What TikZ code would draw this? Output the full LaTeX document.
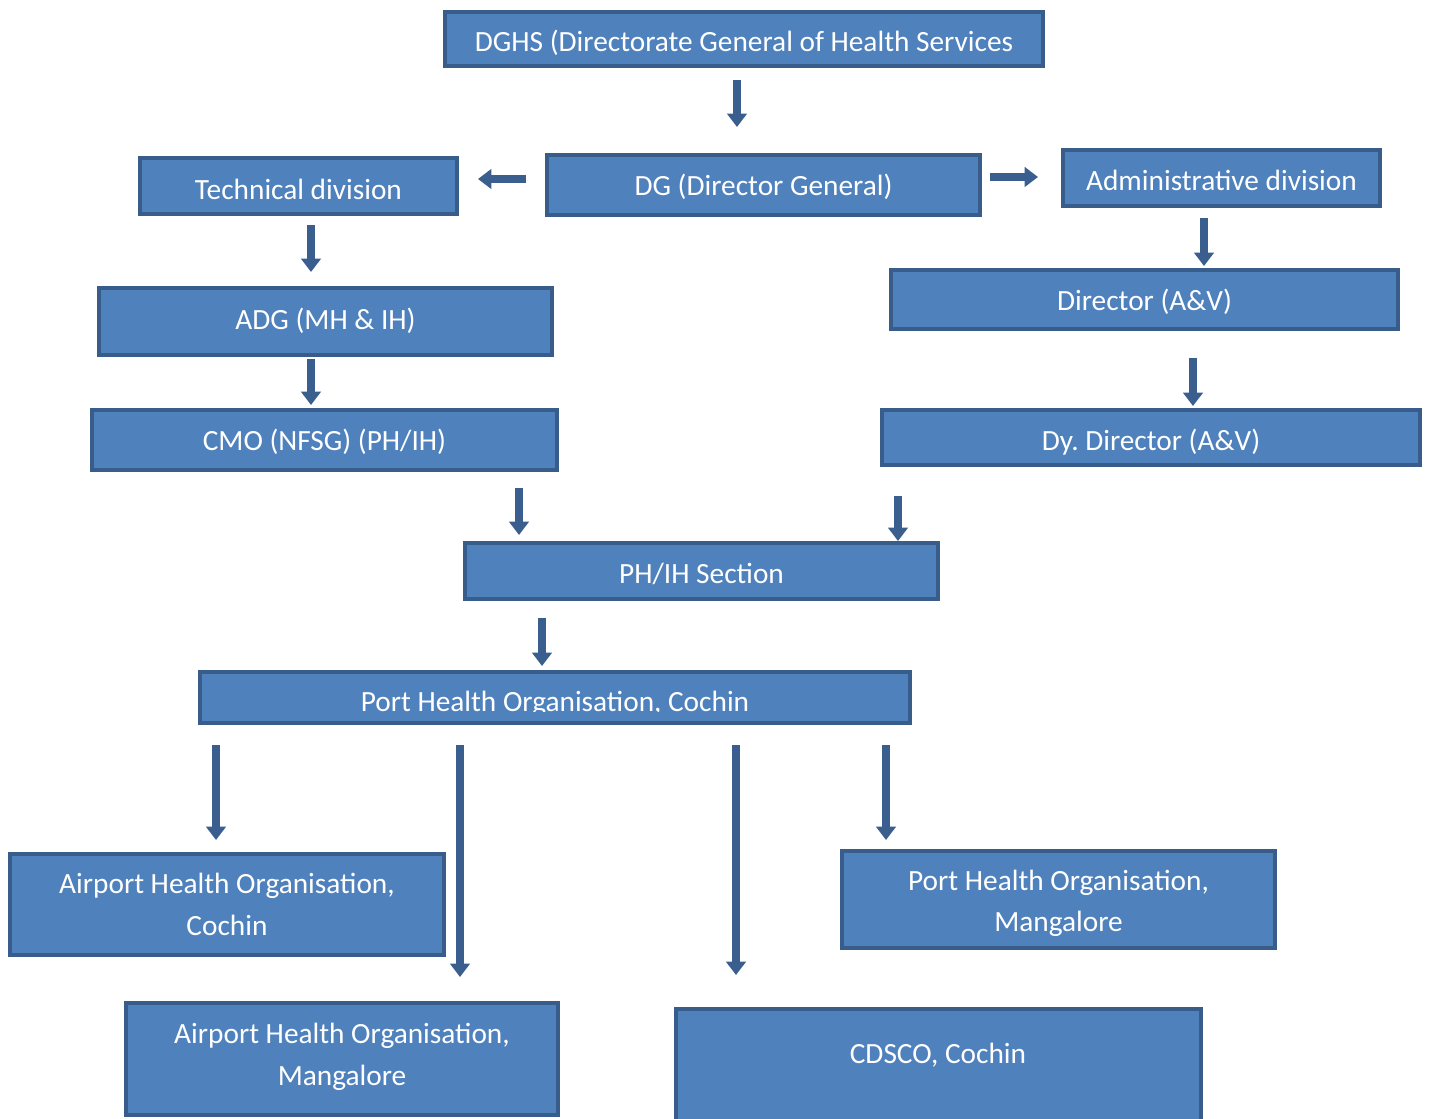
\documentclass[tikz,border=0pt]{standalone}
\usepackage{fontspec}
\setmainfont{Carlito}
\frenchspacing
\usetikzlibrary{arrows.meta}
\definecolor{boxfill}{HTML}{4F81BD}
\definecolor{boxline}{HTML}{385D8A}
\definecolor{arrcol}{HTML}{3A5F8F}
\tikzset{
  box/.style={draw=boxline, fill=boxfill, line width=3pt, inner sep=0pt},
  boxtext/.style={text=white, inner sep=0pt, font=\fontsize{22}{31}\selectfont, align=center},
  arr/.style={draw=arrcol, line width=6pt, -{Triangle[length=10pt,width=14.5pt]}}
}
% name, x1, y1, x2, y2, text, text offset (px)
\newcommand\mybox[7]{%
  \pgfmathsetmacro\bxcx{(#2+#4)/2}\pgfmathsetmacro\bxcy{(#3+#5)/2}%
  \pgfmathsetmacro\bxw{(#4-#2-4)*0.75}\pgfmathsetmacro\bxh{(#5-#3-4)*0.75}%
  \pgfmathsetmacro\bxty{\bxcy+#7}%
  \node[box, minimum width=\bxw pt, minimum height=\bxh pt] (#1) at (\bxcx,\bxcy) {};
  \node[boxtext] (#1-t) at (\bxcx,\bxty) {#6};}
\begin{document}
\begin{tikzpicture}[x=0.75pt,y=-0.75pt]
\clip (0,0) rectangle (1429,1119);
\fill[white] (0,0) rectangle (1429,1119);
\mybox{dghs}{443}{10}{1045}{68}{DGHS (Directorate General of Health Services}{4}
\mybox{dg}{545}{153}{982}{217}{DG (Director General)}{2}
\mybox{tech}{138}{156}{459}{216}{Technical division}{3}
\mybox{admin}{1061}{148}{1382}{208}{Administrative division}{2}
\mybox{adg}{97}{286}{554}{357}{ADG (MH \& IH)}{-1}
\mybox{dir}{889}{268}{1400}{331}{Director (A\&V)}{2}
\mybox{cmo}{90}{408}{559}{472}{CMO (NFSG) (PH/IH)}{2}
\mybox{dy}{880}{408}{1422}{467}{Dy.\ Director (A\&V)}{5}
\mybox{ph}{463}{541}{940}{601}{PH/IH Section}{3}
\node[box, minimum width=532.5pt, minimum height=38.25pt] (port) at (555,697.5) {};
\begin{scope}
  \clip (198,670) rectangle (912,712);
  \node[boxtext, anchor=base] (port-t) at (555,711) {Port Health Organisation, Cochin};
\end{scope}
\mybox{ahc}{8}{852}{446}{957}{Airport Health Organisation,\\Cochin}{0}
\mybox{phm}{840}{849}{1277}{950}{Port Health Organisation,\\Mangalore}{4}
\mybox{ahm}{124}{1001}{560}{1117}{Airport Health Organisation,\\Mangalore}{-2}
\node[box, minimum width=393.75pt, minimum height=94.5pt] (cdsco) at (938.5,1072) {};
\node[boxtext] (cdsco-t) at (938,1055) {CDSCO, Cochin};
% arrows
\draw[arr, shorten <=9pt, shorten >=19.5pt] (dghs.south -| 737,0) -- (dg.north -| 737,0);
\draw[arr, shorten <=14.25pt, shorten >=14.25pt] (dg.west |- 0,179) -- (tech.east |- 0,179);
\draw[arr, shorten <=6pt, shorten >=17.25pt] (dg.east |- 0,177) -- (admin.west |- 0,177);
\draw[arr, shorten <=6.75pt, shorten >=10.5pt] (tech.south -| 311,0) -- (adg.north -| 311,0);
\draw[arr, shorten <=7.5pt, shorten >=1.5pt] (admin.south -| 1204,0) -- (dir.north -| 1204,0);
\draw[arr, shorten <=1.5pt, shorten >=2.25pt] (adg.south -| 311,0) -- (cmo.north -| 311,0);
\draw[arr, shorten <=20.25pt, shorten >=1.5pt] (dir.south -| 1193,0) -- (dy.north -| 1193,0);
\draw[arr, shorten <=12pt, shorten >=4.5pt] (cmo.south -| 519,0) -- (ph.north -| 519,0);
\draw[arr, shorten <=21.75pt, shorten >=0pt] (dy.south -| 898,0) -- (ph.north -| 898,0);
\draw[arr, shorten <=12.75pt, shorten >=3pt] (ph.south -| 542,0) -- (port.north -| 542,0);
\draw[arr, shorten <=15pt, shorten >=9pt] (port.south -| 216,0) -- (ahc.north -| 216,0);
\draw[arr, shorten <=15pt, shorten >=18pt] (port.south -| 460,0) -- (ahm.north -| 460,0);
\draw[arr, shorten <=15pt, shorten >=24pt] (port.south -| 736,0) -- (cdsco.north -| 736,0);
\draw[arr, shorten <=15pt, shorten >=6.75pt] (port.south -| 886,0) -- (phm.north -| 886,0);
\end{tikzpicture}
\end{document}
